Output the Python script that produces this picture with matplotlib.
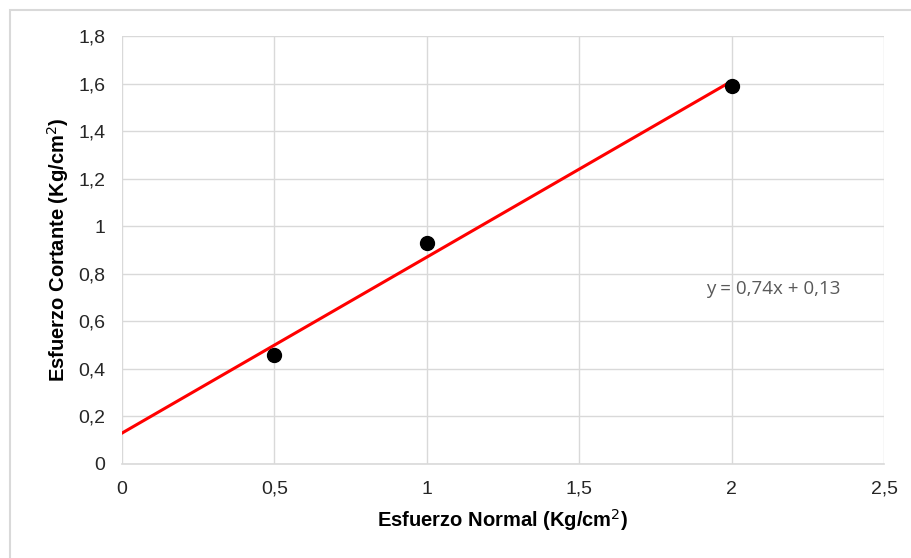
import numpy as np
import matplotlib
matplotlib.use("Agg")
import matplotlib.pyplot as plt
from matplotlib.patches import Rectangle

plt.rcParams['font.family'] = ['Liberation Sans', 'DejaVu Sans']

normal_stress = [0.5, 1.0, 2.0]
shear_stress = [0.46, 0.93, 1.59]
x_ticks = [0, 0.5, 1, 1.5, 2, 2.5]
x_tick_labels = ["0", "0,5", "1", "1,5", "2", "2,5"]
y_ticks = [0, 0.2, 0.4, 0.6, 0.8, 1.0, 1.2, 1.4, 1.6, 1.8]
y_tick_labels = ["0", "0,2", "0,4", "0,6", "0,8", "1", "1,2", "1,4", "1,6", "1,8"]

W, H = 911, 558
fig = plt.figure(figsize=(W / 100, H / 100), dpi=100)
fig.patch.set_facecolor('white')

# outer chart border (top/left visible)
fig.patches.append(Rectangle((10 / W, -0.05), 1.1, 1 - 10 / H + 0.05,
                             transform=fig.transFigure, fill=False,
                             edgecolor='#d9d9d9', linewidth=1.5))

left, right, top, bottom = 122, 884, 36, 464
ax = fig.add_axes([left / W, 1 - bottom / H, (right - left) / W, (bottom - top) / H])

ax.set_xlim(0, 2.5)
ax.set_ylim(0, 1.8)
ax.set_xticks(x_ticks)
ax.set_xticklabels(x_tick_labels)
ax.set_yticks(y_ticks)
ax.set_yticklabels(y_tick_labels)
ax.grid(True, color='#d9d9d9', linewidth=1)
ax.set_axisbelow(True)
for s in ['top', 'right', 'left']:
    ax.spines[s].set_visible(False)
ax.spines['bottom'].set_color('#d9d9d9')
ax.spines['bottom'].set_linewidth(1.2)
ax.tick_params(length=0, labelsize=14, labelcolor='#262626')
ax.tick_params(axis='y', pad=12)
ax.tick_params(axis='x', pad=12)

# linear trendline
slope, intercept = np.polyfit(normal_stress, shear_stress, 1)
xs = np.array([0, max(normal_stress)])
ax.plot(xs, slope * xs + intercept, color='#ff0000', linewidth=2.2, zorder=3)
ax.plot(normal_stress, shear_stress, 'o', color='black', markersize=10, zorder=4)

eq = "y = {:.2f}x + {:.2f}".format(slope, intercept).replace('.', ',')
ax.text(1.915, 0.735, eq, fontsize=13.5, color='#595959',
        family=['Open Sans', 'DejaVu Sans'], ha='left', va='center')

ax.set_xlabel("Esfuerzo Normal (Kg/cm$^2$)", fontsize=14.5, fontweight='bold',
              color='black', labelpad=7)
ax.set_ylabel("Esfuerzo Cortante (Kg/cm$^2$)", fontsize=14.5, fontweight='bold',
              color='black', labelpad=5)

fig.savefig("out.png", dpi=100)
